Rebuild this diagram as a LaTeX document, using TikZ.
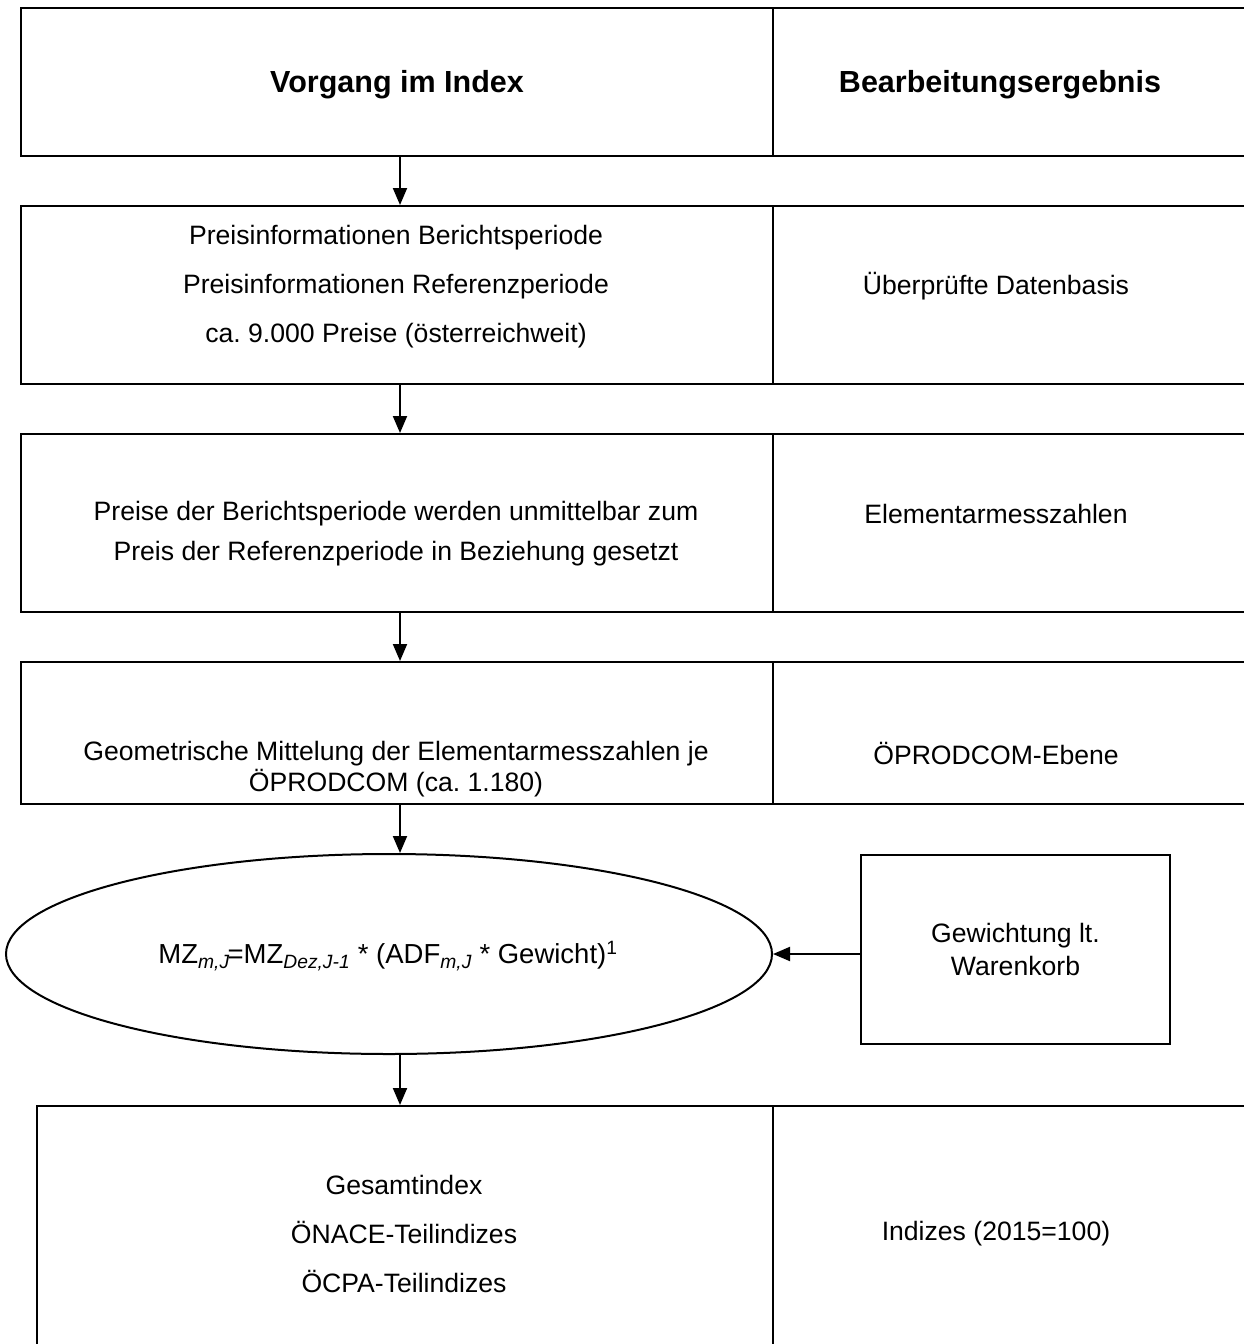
\documentclass[tikz,border=0pt]{standalone}
\usepackage{fontspec}
\setmainfont{Liberation Sans}
\usetikzlibrary{arrows.meta,shapes.geometric}

\begin{document}
\frenchspacing
\begin{tikzpicture}[x=1pt,y=-1pt,
  frame/.style={draw, line width=2pt, rectangle, inner sep=0pt, anchor=north west},
  lbl/.style={font=\fontsize{26.6}{49}\selectfont, align=center, inner sep=0pt},
  head/.style={lbl, font=\fontsize{30.5}{36}\selectfont\bfseries},
  flow/.style={-{Triangle[length=17pt,width=14pt]}, line width=2pt}]
\clip (0,0) rectangle (1244,1344);
\fill[white] (0,0) rectangle (1244,1344);

% column of process steps (left) and results (right)
\node[frame, minimum width=752pt, minimum height=148pt] (p1) at (20,7) {};
\node[frame, minimum width=490pt, minimum height=148pt] (e1) at (772,7) {};
\node[frame, minimum width=752pt, minimum height=178pt] (p2) at (20,205) {};
\node[frame, minimum width=490pt, minimum height=178pt] (e2) at (772,205) {};
\node[frame, minimum width=752pt, minimum height=178pt] (p3) at (20,433) {};
\node[frame, minimum width=490pt, minimum height=178pt] (e3) at (772,433) {};
\node[frame, minimum width=752pt, minimum height=142pt] (p4) at (20,661) {};
\node[frame, minimum width=490pt, minimum height=142pt] (e4) at (772,661) {};
\node[frame, minimum width=736pt, minimum height=260pt] (p6) at (36,1105) {};
\node[frame, minimum width=490pt, minimum height=260pt] (e6) at (772,1105) {};

% aggregation step and weighting input
\node[draw, line width=2pt, ellipse, inner sep=0pt, minimum width=766pt, minimum height=200pt] (agg) at (389,954) {};
\node[frame, lbl, font=\fontsize{26.6}{33}\selectfont, minimum width=309pt, minimum height=189pt] (gw) at (860,854) {Gewichtung lt.\\Warenkorb};

% texts
\node[head] (t1) at (397,85) {Vorgang im Index};
\node[head] (r1) at (1000,85) {Bearbeitungsergebnis};
\node[lbl] (t2) at (396,287) {Preisinformationen Berichtsperiode\\Preisinformationen Referenzperiode\\ca. 9.000 Preise (österreichweit)};
\node[lbl] (r2) at (996,286) {Überprüfte Datenbasis};
\node[lbl, font=\fontsize{26.6}{40}\selectfont] (t3) at (396,534) {Preise der Berichtsperiode werden unmittelbar zum\\Preis der Referenzperiode in Beziehung gesetzt};
\node[lbl] (r3) at (996,514) {Elementarmesszahlen};
\node[lbl, font=\fontsize{26.6}{31}\selectfont] (t4) at (396,769) {Geometrische Mittelung der Elementarmesszahlen je\\ÖPRODCOM (ca. 1.180)};
\node[lbl] (r4) at (996,753) {ÖPRODCOM-Ebene};
\node[lbl, font=\fontsize{27.5}{33}\selectfont] (t5) at (388,956) {MZ\textsubscript{\itshape m,J}\kern-2pt=MZ\textsubscript{\itshape Dez,J-1} * (ADF\textsubscript{\itshape m,J} * Gewicht)\textsuperscript{1}};
\node[lbl] (t6) at (404,1234) {Gesamtindex\\ÖNACE-Teilindizes\\ÖCPA-Teilindizes};
\node[lbl] (r6) at (996,1234) {Indizes (2015=100)};

% connectors
\coordinate (ax) at (400,0);
\draw[flow] (p1.south -| ax) -- (p2.north -| ax);
\draw[flow] (p2.south -| ax) -- (p3.north -| ax);
\draw[flow] (p3.south -| ax) -- (p4.north -| ax);
\draw[flow] (p4.south -| ax) -- (ax |- agg.north);
\draw[flow] (ax |- agg.south) -- (p6.north -| ax);
\draw[flow] (gw.west |- agg.east) -- (agg.east);
\end{tikzpicture}
\end{document}
